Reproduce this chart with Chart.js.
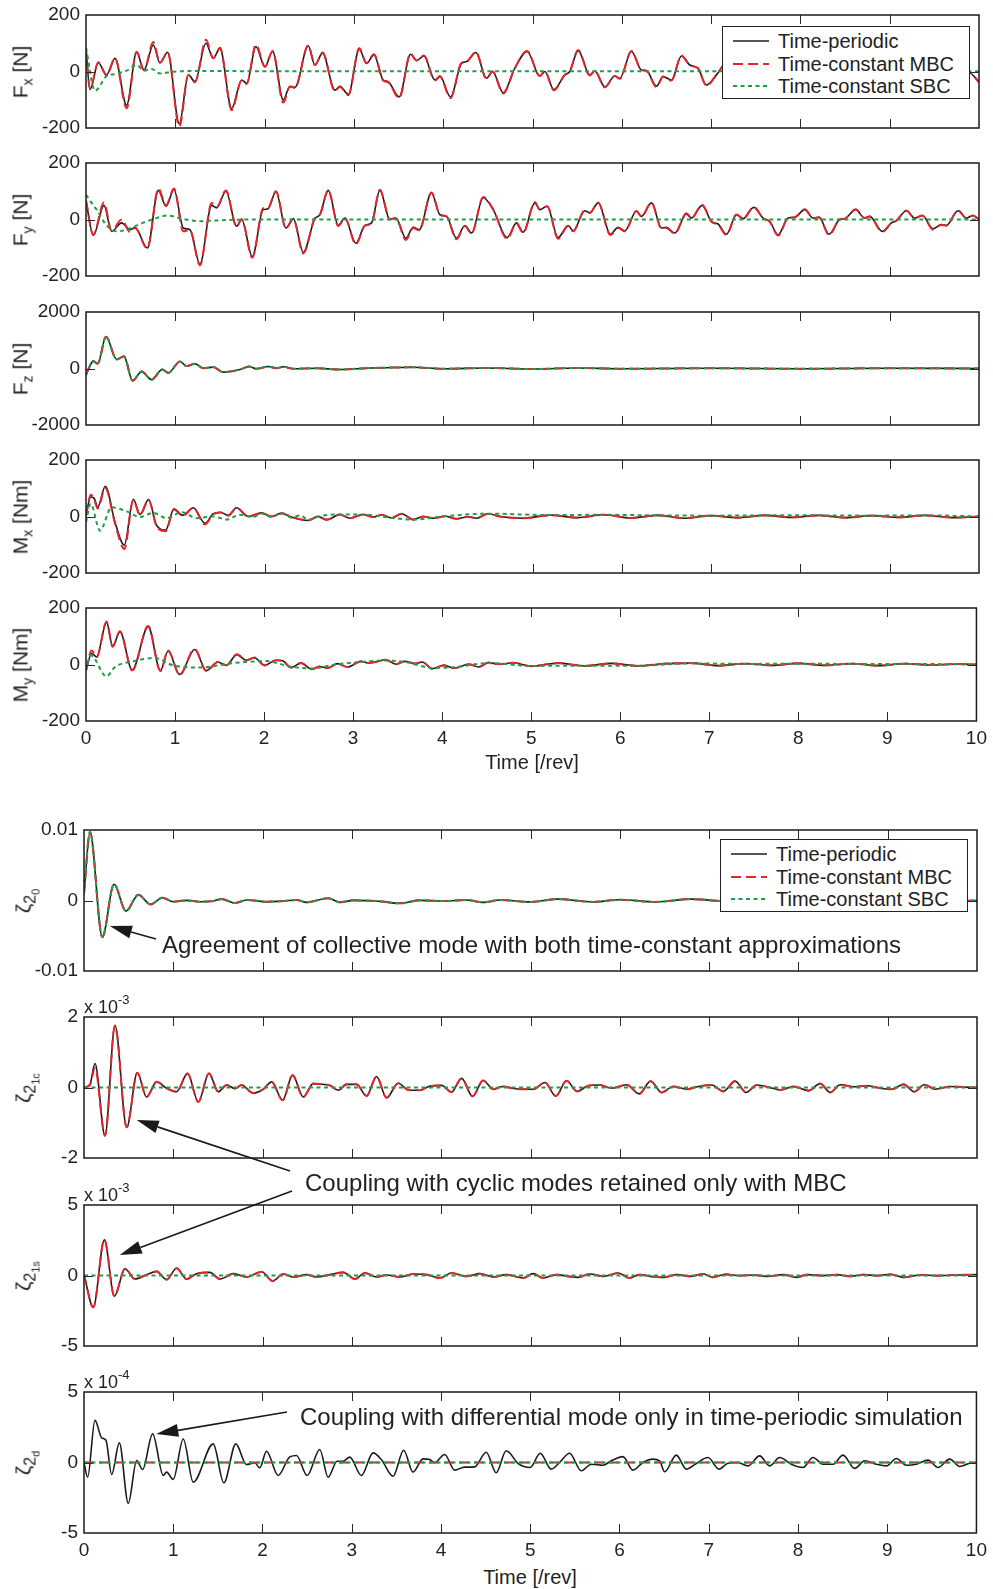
<!DOCTYPE html>
<html>
<head>
<meta charset="utf-8">
<script src="https://cdn.jsdelivr.net/npm/chart.js@4.4.0/dist/chart.umd.min.js"></script>
<style>
body { margin: 0; background: #fff; font-family: "Liberation Sans", Arial, Helvetica, sans-serif; color: #222; }
#page { position: relative; width: 993px; height: 1589px; overflow: hidden; }
#page canvas { position: absolute; left: 0; }
.ylab { position: absolute; font-size: 21px; white-space: nowrap; transform: translate(-50%, -50%) rotate(-90deg); line-height: 1; }
.ylab sub { font-size: 14px; vertical-align: -5px; }
.ylab.z { font-size: 21px; }
.ylab.z sub { font-size: 16px; vertical-align: -5px; }
.ylab.z sub sub { font-size: 11px; vertical-align: -4px; }
.note { position: absolute; font-size: 24px; line-height: 28px; white-space: nowrap; z-index: 4; }
.xlab { position: absolute; font-size: 20px; line-height: 24px; white-space: nowrap; transform: translate(-50%, -50%); }
.scale { position: absolute; font-size: 18px; line-height: 20px; white-space: nowrap; }
.scale sup { font-size: 13px; vertical-align: 9px; }
.legend { position: absolute; box-sizing: border-box; border: 1.3px solid #222; background: #fff; z-index: 3; }
.legend .row { position: absolute; left: 0; height: 24px; width: 100%; }
.legend svg { position: absolute; left: 10px; top: 9px; }
.legend span { position: absolute; left: 55px; top: 0; font-size: 20px; line-height: 24px; white-space: nowrap; }
#arrows { z-index: 5; pointer-events: none; }
</style>
</head>
<body>
<div id="page"></div>
<script>
// ---- data (time in revolutions) ----
const fxTime = [0,0.045,0.138,0.231,0.325,0.455,0.567,0.649,0.754,0.828,
    0.914,1.045,1.146,1.220,1.343,1.425,1.500,1.631,1.743,1.799,
    1.903,2.004,2.090,2.209,2.284,2.340,2.489,2.563,2.649,2.787,
    2.843,2.937,3.060,3.142,3.224,3.328,3.384,3.507,3.634,3.701,
    3.784,3.907,3.963,4.082,4.205,4.261,4.366,4.485,4.552,4.672,
    4.80,4.940,5.082,5.138,5.239,5.362,5.418,5.511,5.642,5.698,
    5.810,5.922,5.978,6.108,6.220,6.276,6.388,6.463,6.556,6.668,
    6.761,6.854,6.948,7.060,7.2,7.35,7.5,7.65,7.8,7.95,
    8.1,8.3,8.45,8.6,8.8,8.95,9.1,9.3,9.45,9.6,
    9.75,9.89,10];
const fxPeriodic = [77,-64,31,-12,47,-119,68,5,94,31,
    68,-185,-12,-36,100,47,82,-131,-30,-42,
    88,17,71,-101,-52,-56,91,23,65,-66,
    -52,-81,79,29,59,-30,-36,-90,61,39,
    55,-30,-16,-90,29,35,67,-24,0,-75,
    10,71,-16,0,-64,-12,0,74,-12,2,
    -54,-16,-24,71,5,3,-52,-18,-30,55,
    23,11,-48,-12,40,-20,60,-40,50,-30,
    50,-40,40,-30,45,-35,40,-30,35,-30,
    30,0,-36];
const fxMbc = [77,-62,33,-14,47,-130,70,5,104,31,
    68,-195,-12,-38,112,47,84,-137,-32,-44,
    95,17,73,-110,-54,-58,93,23,67,-70,
    -54,-84,82,29,61,-32,-38,-94,63,39,
    57,-32,-18,-94,31,35,69,-26,0,-78,
    10,73,-16,0,-66,-12,0,76,-14,2,
    -56,-16,-26,73,5,3,-55,-18,-32,57,
    23,11,-50,-12,40,-20,60,-40,50,-30,
    50,-40,40,-30,45,-35,40,-30,35,-30,
    30,0,-38];
const fxSbcTime = [0,0.101,0.231,0.325,0.455,0.567,0.649,0.735,0.828,0.978,1.276,2,4,6,8,10];
const fxSbc = [84,-68,-16,-9,3,23,3,9,-7,-1,2,1,1,1,1,1];

const fyTime = [0,0.082,0.201,0.287,0.399,0.493,0.549,0.687,0.810,0.896,
    0.985,1.090,1.164,1.276,1.407,1.463,1.567,1.687,1.743,1.862,
    1.985,2.034,2.127,2.239,2.321,2.433,2.563,2.619,2.713,2.825,
    2.899,3.022,3.123,3.198,3.291,3.403,3.470,3.582,3.664,3.731,
    3.869,3.963,4.037,4.149,4.243,4.317,4.448,4.560,4.716,4.821,
    4.896,5.026,5.082,5.164,5.287,5.399,5.455,5.586,5.642,5.735,
    5.873,5.959,6.034,6.164,6.220,6.332,6.444,6.500,6.593,6.724,
    6.780,6.899,7.004,7.078,7.172,7.284,7.358,7.478,7.582,7.657,
    7.750,7.862,7.937,8.049,8.142,8.209,8.321,8.440,8.496,8.619,
    8.720,8.776,8.918,9.019,9.075,9.187,9.280,9.366,9.485,9.578,
    9.634,9.765,9.858,9.933,10];
const fyPeriodic = [65,-56,50,-42,-12,-36,-28,-101,103,47,
    106,-30,-36,-158,50,41,100,-24,0,-131,
    35,37,98,-30,3,-116,3,17,103,-21,
    5,-84,-21,-12,103,0,5,-66,-28,-36,
    94,17,11,-66,-21,-48,77,35,-64,-12,
    -45,59,35,47,-64,-21,-40,31,23,59,
    -52,-28,-40,29,11,59,-30,-28,-48,20,
    5,50,-7,-16,-52,17,3,43,5,-7,
    -54,5,8,35,5,8,-52,0,3,35,
    5,11,-42,-12,-4,31,5,14,-33,-18,
    -21,31,5,14,0];
const fyMbc = [68,-54,60,-40,0,-45,-30,-103,110,50,
    110,-42,-38,-162,58,44,103,-26,2,-135,
    40,38,100,-32,3,-120,5,17,104,-23,
    5,-88,-22,-13,105,0,5,-72,-30,-38,
    96,17,11,-70,-23,-50,80,36,-68,-14,
    -48,62,35,47,-68,-23,-42,33,24,60,
    -55,-30,-42,30,11,60,-32,-30,-50,22,
    5,52,-8,-18,-55,18,3,44,5,-8,
    -57,5,8,36,5,8,-55,0,3,36,
    5,11,-44,-13,-4,32,5,14,-36,-19,
    -22,32,5,14,0];
const fySbcTime = [0,0.082,0.119,0.231,0.343,0.455,0.604,0.787,0.918,1.086,1.276,1.425,1.649,2,4,6,8,10];
const fySbc = [88,50,35,-21,-42,-36,-16,5,14,2,-6,-4,-1,0,0,0,0,0];

const fzTime = [0,0.037,0.082,0.131,0.224,0.343,0.425,0.522,0.623,0.735,
    0.854,0.922,1.052,1.127,1.220,1.313,1.425,1.537,1.724,1.828,
    1.910,2.041,2.134,2.209,2.321,2.582,2.843,3.142,3.440,3.664,
    4.0,4.5,5,5.5,6,7,8,9,10];
const fzPeriodic = [-230,50,260,170,1125,320,430,-430,-110,-395,
    -35,-155,250,85,170,10,50,-130,-35,70,
    -10,70,10,60,-10,10,-35,10,35,45,
    -10,20,-20,20,-10,10,-10,10,0];

const mxTime = [0,0.052,0.090,0.131,0.216,0.325,0.429,0.530,0.604,0.701,
    0.791,0.892,0.985,1.082,1.201,1.332,1.425,1.507,1.593,1.687,
    1.817,1.966,2.078,2.190,2.302,2.489,2.601,2.694,2.843,2.955,
    3.104,3.216,3.310,3.422,3.534,3.664,3.776,3.888,4.019,4.149,
    4.280,4.373,4.504,4.634,4.9,5.2,5.5,5.8,6.1,6.4,
    6.7,7.0,7.3,7.6,7.9,8.2,8.5,8.8,9.1,9.4,
    9.7,10];
const mxPeriodic = [5,69,65,33,107,-20,-101,61,7,60,
    -32,-48,27,4,31,-24,10,15,4,31,
    0,13,0,12,-2,-14,0,-12,7,-6,
    7,-2,6,-5,10,-11,0,-6,1,-8,
    -1,-6,10,0,-6,5,-4,6,-5,4,
    -6,3,-4,4,-3,4,-4,3,-3,4,
    -4,0];
const mxMbc = [0,77,62,28,101,-25,-115,58,5,58,
    -35,-52,25,2,30,-28,8,14,3,30,
    0,12,0,11,-2,-13,0,-11,7,-6,
    7,-2,6,-5,10,-11,0,-6,1,-8,
    -1,-6,10,0,-6,5,-4,6,-5,4,
    -6,3,-4,4,-3,4,-4,3,-3,4,
    -4,0];
const mxSbcTime = [0,0.052,0.157,0.287,0.455,0.604,0.754,0.903,1.071,1.239,
    1.425,1.575,1.724,1.873,1.966,2.078,2.190,2.302,2.40,2.489,
    2.601,2.843,3.104,3.422,3.664,4.019,4.504,5.2,5.8,6.4,
    7.0,7.6,8.2,8.8,9.4,10];
const mxSbc = [-20,45,-50,33,18,-2,13,-6,15,-6,
    0,-11,6,-2,11,-2,12,-4,4,-12,
    0,7,7,-5,-11,1,10,5,6,4,
    3,4,4,3,4,0];

const myTime = [0,0.063,0.119,0.231,0.299,0.381,0.519,0.698,0.836,0.922,
    1.052,1.220,1.351,1.481,1.575,1.694,1.799,1.892,2.004,2.134,
    2.209,2.302,2.414,2.537,2.619,2.713,2.825,2.937,3.086,3.179,
    3.254,3.366,3.478,3.582,3.701,3.776,3.888,4.019,4.131,4.299,
    4.410,4.522,4.634,4.8,5.0,5.3,5.6,5.9,6.2,6.5,
    6.8,7.1,7.4,7.7,8.0,8.3,8.6,8.9,9.2,9.5,
    9.8,10];
const myPeriodic = [-21,39,27,149,65,116,-19,134,-21,48,
    -35,53,-21,9,-3,35,15,24,-3,15,
    13,-11,5,-17,-7,-13,3,-9,11,5,
    9,17,1,11,3,9,-15,-3,-13,1,
    -9,7,1,6,-6,5,-5,4,-5,3,
    5,-4,3,-3,4,-3,3,-4,3,-2,
    2,0];
const myMbc = [-21,50,25,152,63,118,-21,136,-23,50,
    -37,55,-23,9,-3,36,15,25,-3,15,
    13,-11,5,-17,-7,-13,3,-9,11,5,
    9,17,1,11,3,9,-15,-3,-13,1,
    -9,7,1,6,-6,5,-5,4,-5,3,
    5,-4,3,-3,4,-3,3,-4,3,-2,
    2,0];
const mySbcTime = [0,0.052,0.231,0.325,0.530,0.772,0.978,1.276,1.649,2.022,
    2.302,2.537,2.8,3.086,3.366,3.6,3.888,4.131,4.522,5.0,
    5.6,6.2,6.8,7.4,8.0,8.6,9.2,10];
const mySbc = [-21,33,-42,-9,11,23,-3,-11,5,12,
    -8,-14,0,9,14,8,-12,-10,5,-5,
    -4,-4,4,2,3,2,2,0];

const z0Time = [0,0.067,0.205,0.336,0.470,0.608,0.746,0.877,1.0,1.149,
    1.299,1.448,1.541,1.690,1.821,2.045,2.231,2.381,2.493,2.735,
    2.866,3.015,3.276,3.537,3.761,4.060,4.284,4.470,4.657,5.0,
    5.3,5.7,6.0,6.4,6.8,7.2,7.6,8.0,8.4,8.8,
    9.2,9.6,10];
const z0Periodic = [0.0010,0.0097,-0.0052,0.0023,-0.0015,0.0008,-0.00055,0.0004,-0.00017,0.00002,
    -0.00017,-0.00007,0.0002,-0.00036,0.00007,-0.00017,-0.00007,0.00007,-0.00026,0.00031,
    -0.00026,0.00002,-0.00007,-0.0004,0.00002,-0.00007,0.00007,-0.00026,0.00007,-0.0002,
    0.0002,-0.0002,0.0001,-0.0002,0.0002,-0.0001,0.0001,-0.0001,0.0001,-0.0001,
    0.0001,-0.0001,0];

// zeta_2_1c, x 10^-3
const z1cTime = [0,0.067,0.123,0.235,0.347,0.478,0.597,0.701,0.813,0.925,
    1.037,1.160,1.280,1.399,1.504,1.597,1.690,1.765,1.896,2.007,
    2.101,2.224,2.336,2.455,2.567,2.660,2.754,2.847,2.940,3.052,
    3.164,3.276,3.388,3.519,3.631,3.761,3.873,4.004,4.116,4.228,
    4.351,4.470,4.582,4.694,4.806,4.918,5.030,5.161,5.284,5.404,
    5.523,5.646,5.777,5.908,6.076,6.218,6.345,6.469,6.599,6.749,
    6.880,7.029,7.160,7.291,7.414,7.534,7.683,7.795,7.945,8.113,
    8.244,8.356,8.468,8.617,8.767,8.916,9.047,9.178,9.297,9.410,
    9.533,9.701,9.851,10];
const z1cPeriodic = [0,0.09,0.68,-1.37,1.76,-1.13,0.42,-0.27,0.16,-0.02,
    -0.12,0.40,-0.41,0.40,-0.12,0.07,-0.03,0.07,-0.16,-0.05,
    0.16,-0.36,0.35,-0.27,0.11,0.09,0.06,-0.08,0.09,0.09,
    -0.24,0.31,-0.29,0.12,-0.07,-0.08,0.04,0.06,-0.13,0.26,
    -0.25,0.20,-0.05,0.03,-0.03,-0.05,-0.05,0.14,-0.24,0.19,
    -0.11,0.05,0.07,-0.02,0.08,-0.18,0.18,-0.14,0.03,-0.05,
    0.03,0.07,-0.11,0.18,-0.14,0.07,0,-0.07,0.03,-0.09,
    0.11,-0.14,0.08,0.02,0.05,-0.02,-0.05,0.09,-0.12,0.08,
    -0.05,0.03,0.01,0];
const z1cMbc = [0,0.07,0.55,-1.37,1.76,-1.13,0.42,-0.27,0.16,-0.02,
    -0.12,0.40,-0.41,0.40,-0.12,0.07,-0.03,0.07,-0.16,-0.05,
    0.16,-0.36,0.35,-0.27,0.11,0.09,0.06,-0.08,0.09,0.09,
    -0.24,0.31,-0.29,0.12,-0.07,-0.08,0.04,0.06,-0.13,0.26,
    -0.25,0.20,-0.05,0.03,-0.03,-0.05,-0.05,0.14,-0.24,0.19,
    -0.11,0.05,0.07,-0.02,0.08,-0.18,0.18,-0.14,0.03,-0.05,
    0.03,0.07,-0.11,0.18,-0.14,0.07,0,-0.07,0.03,-0.09,
    0.11,-0.14,0.08,0.02,0.05,-0.02,-0.05,0.09,-0.12,0.08,
    -0.05,0.03,0.01,0];

// zeta_2_1s, x 10^-3
const z1sTime = [0,0.104,0.228,0.340,0.459,0.571,0.701,0.813,0.925,1.037,
    1.149,1.261,1.410,1.522,1.672,1.821,1.989,2.112,2.231,2.343,
    2.493,2.604,2.754,2.903,3.034,3.146,3.276,3.388,3.537,3.687,
    3.836,3.985,4.116,4.284,4.433,4.582,4.731,4.918,5.030,5.142,
    5.291,5.422,5.534,5.665,5.815,5.983,6.106,6.226,6.338,6.487,
    6.637,6.786,6.936,7.040,7.179,7.347,7.496,7.646,7.833,7.982,
    8.094,8.281,8.431,8.580,8.729,8.879,9.028,9.178,9.365,9.552,
    9.776,10];
const z1sPeriodic = [0.06,-2.25,2.53,-1.47,0.48,-0.25,0.06,0.29,-0.29,0.51,
    -0.25,0.13,0.22,-0.25,0.13,-0.11,0.27,-0.39,0.11,-0.11,
    0.06,-0.11,0.06,0.22,-0.25,0.18,-0.11,0.04,-0.11,0.11,
    0.06,-0.18,0.18,-0.06,0.13,-0.11,0.06,-0.18,0.13,-0.18,
    0.06,-0.06,-0.13,0.11,-0.06,0.18,-0.18,0.06,-0.06,-0.13,
    0.06,-0.06,0.11,-0.13,0.08,-0.01,0.04,-0.06,0.06,-0.13,
    0.06,-0.01,0.06,-0.06,0.06,-0.01,0.08,-0.13,0.04,-0.01,
    0.04,0.06];

// zeta_2_d, x 10^-4
const z2dTime = [0,0.041,0.123,0.198,0.246,0.310,0.396,0.496,0.590,0.657,
    0.769,0.888,0.925,1.0,1.112,1.224,1.448,1.567,1.701,1.821,
    1.914,1.970,2.045,2.175,2.306,2.381,2.500,2.642,2.735,2.836,
    2.903,2.978,3.108,3.239,3.332,3.463,3.582,3.687,3.799,3.873,
    3.929,4.041,4.153,4.265,4.377,4.507,4.619,4.731,4.873,5.0,
    5.112,5.235,5.329,5.441,5.572,5.684,5.815,5.908,6.039,6.151,
    6.263,6.375,6.450,6.506,6.637,6.749,6.861,6.992,7.115,7.216,
    7.328,7.440,7.571,7.683,7.795,7.926,8.057,8.169,8.281,8.393,
    8.505,8.636,8.748,8.879,8.991,9.103,9.215,9.327,9.458,9.570,
    9.701,9.813,9.925,10];
const z2dPeriodic = [-0.02,-1.04,2.99,1.75,1.58,-0.85,1.39,-2.90,0.14,-0.50,
    2.03,-0.92,-0.68,-1.20,1.67,-1.39,1.32,-1.44,1.32,-0.14,
    -0.02,-0.38,0.80,-0.92,0.40,0.50,-0.92,0.92,-1.04,0.09,
    0.09,0.38,-0.92,0.68,0.21,-0.97,0.87,-0.68,0.26,0.21,
    -0.02,0.57,-0.54,-0.33,-0.31,0.73,-0.73,0.83,-0.12,-0.35,
    0.66,-0.47,0,0.66,-0.59,-0.12,-0.19,0.12,0.42,-0.54,
    0,0.24,0.12,-0.66,0.52,-0.47,-0.07,0.35,-0.47,-0.05,
    0,-0.24,0.47,-0.24,0.35,-0.12,-0.35,0.35,-0.12,-0.12,
    0.52,-0.42,0.12,-0.12,-0.24,0.28,-0.19,-0.12,0.17,-0.35,
    0.24,-0.28,-0.05,0];
const flatTime = [0, 10];
const flatZero = [0, 0];

const seriesNames = ['Time-periodic', 'Time-constant MBC', 'Time-constant SBC'];
const timeTicks = [0, 1, 2, 3, 4, 5, 6, 7, 8, 9, 10];

// ---- look ----
const FONT = '"Liberation Sans", Arial, Helvetica, sans-serif';
const lineStyles = [
    { borderColor: '#1c1c1c', borderWidth: 1.6, borderDash: [], order: 3 },
    { borderColor: '#e4232b', borderWidth: 2, borderDash: [10, 5], order: 2 },
    { borderColor: '#1f9d4b', borderWidth: 2, borderDash: [4, 3.5], order: 1 }
];

const page = document.getElementById('page');

function pts(t, v) {
    if (t.length !== v.length) console.warn('length mismatch', t.length, v.length);
    return t.map((x, i) => ({ x: x, y: v[i] }));
}

function fmtTick(v) {
    if (Math.abs(v) < 1e-12) return '0';
    return String(+v.toPrecision(4));
}

// frame and inward tick marks, like the original figure
const frameTicks = {
    id: 'frameTicks',
    afterDatasetsDraw(chart) {
        const { ctx, chartArea: a, scales } = chart;
        const x = scales.x, y = scales.y;
        ctx.save();
        ctx.strokeStyle = '#2a2a2a';
        ctx.lineWidth = 1;
        ctx.beginPath();
        x.ticks.forEach(t => {
            if (t.value <= x.min || t.value >= x.max) return;
            const px = Math.round(x.getPixelForValue(t.value)) + 0.5;
            ctx.moveTo(px, a.top); ctx.lineTo(px, a.top + 9);
            ctx.moveTo(px, a.bottom); ctx.lineTo(px, a.bottom - 9);
        });
        y.ticks.forEach(t => {
            if (t.value <= y.min || t.value >= y.max) return;
            const py = Math.round(y.getPixelForValue(t.value)) + 0.5;
            ctx.moveTo(a.left, py); ctx.lineTo(a.left + 9, py);
            ctx.moveTo(a.right, py); ctx.lineTo(a.right - 9, py);
        });
        ctx.stroke();
        ctx.lineWidth = 1.5;
        ctx.strokeStyle = '#1a1a1a';
        ctx.strokeRect(a.left, a.top, a.right - a.left, a.bottom - a.top);
        ctx.restore();
    }
};

function makePlot(p) {
    const padTop = 20;
    const padBottom = p.xLabels ? 2 : 20;
    const xh = p.xLabels ? 30 : 0;
    const canvas = document.createElement('canvas');
    canvas.width = 993;
    canvas.height = padTop + p.h + xh + padBottom;
    canvas.style.top = (p.top - padTop) + 'px';
    page.appendChild(canvas);

    const datasets = p.series.map((s, i) => Object.assign({
        label: seriesNames[i],
        data: pts(s[0], s[1]),
        pointRadius: 0,
        fill: false,
        cubicInterpolationMode: 'monotone'
    }, lineStyles[i]));

    const chart = new Chart(canvas, {
        type: 'line',
        data: { datasets: datasets },
        options: {
            responsive: false,
            animation: false,
            events: [],
            layout: { padding: { top: padTop, right: 993 - p.right, bottom: padBottom, left: 0 } },
            plugins: { legend: { display: false }, tooltip: { enabled: false } },
            scales: {
                x: {
                    type: 'linear', min: 0, max: 10,
                    afterBuildTicks: s => { s.ticks = timeTicks.map(v => ({ value: v })); },
                    ticks: { display: !!p.xLabels, padding: 6, color: '#222', font: { family: FONT, size: 19 } },
                    grid: { display: false, drawTicks: false },
                    border: { display: false },
                    afterFit: s => { s.height = xh; }
                },
                y: {
                    min: -p.lim, max: p.lim,
                    afterBuildTicks: s => { s.ticks = [-p.lim, 0, p.lim].map(v => ({ value: v })); },
                    ticks: { padding: 6, color: '#222', font: { family: FONT, size: 19 }, callback: fmtTick },
                    grid: { display: false, drawTicks: false },
                    border: { display: false },
                    afterFit: s => { s.width = p.left; }
                }
            }
        },
        plugins: [frameTicks]
    });
    chart.$top = p.top - padTop;

    const yl = document.createElement('div');
    yl.className = 'ylab' + (p.zeta ? ' z' : '');
    yl.innerHTML = p.label;
    yl.style.left = p.labelX + 'px';
    yl.style.top = (p.top + p.h / 2) + 'px';
    page.appendChild(yl);

    if (p.scaleText) {
        const sc = document.createElement('div');
        sc.className = 'scale';
        sc.innerHTML = p.scaleText;
        sc.style.left = p.left + 'px';
        sc.style.top = (p.top - 27) + 'px';
        page.appendChild(sc);
    }
    if (p.legend) addLegend(chart, p.legend[0], p.legend[1]);
    return chart;
}

function addLegend(chart, left, top) {
    const box = document.createElement('div');
    box.className = 'legend';
    box.style.left = left + 'px';
    box.style.top = top + 'px';
    box.style.width = '248px';
    box.style.height = '73px';
    chart.data.datasets.forEach((ds, i) => {
        const row = document.createElement('div');
        row.className = 'row';
        row.style.top = (2 + i * 22.5) + 'px';
        const dash = ds.borderDash.length ? ds.borderDash.join(' ') : 'none';
        row.innerHTML = '<svg width="36" height="6"><line x1="0" y1="3" x2="36" y2="3" stroke="' + ds.borderColor +
            '" stroke-width="' + ds.borderWidth + '" stroke-dasharray="' + dash + '"/></svg><span>' + ds.label + '</span>';
        box.appendChild(row);
    });
    page.appendChild(box);
}

function addText(cls, html, left, top) {
    const d = document.createElement('div');
    d.className = cls;
    d.innerHTML = html;
    d.style.left = left + 'px';
    d.style.top = top + 'px';
    page.appendChild(d);
    return d;
}

const top5 = { left: 86, right: 979, h: 113, lim: 200, labelX: 22 };
const bot4 = { left: 84, right: 977, h: 141, labelX: 27, zeta: true };

const charts = [
    makePlot(Object.assign({}, top5, { top: 15, label: 'F<sub>x</sub> [N]',
        series: [[fxTime, fxPeriodic], [fxTime, fxMbc], [fxSbcTime, fxSbc]], legend: [722, 26] })),
    makePlot(Object.assign({}, top5, { top: 163, label: 'F<sub>y</sub> [N]',
        series: [[fyTime, fyPeriodic], [fyTime, fyMbc], [fySbcTime, fySbc]] })),
    makePlot(Object.assign({}, top5, { top: 312, lim: 2000, label: 'F<sub>z</sub> [N]',
        series: [[fzTime, fzPeriodic], [fzTime, fzPeriodic], [fzTime, fzPeriodic]] })),
    makePlot(Object.assign({}, top5, { top: 460, label: 'M<sub>x</sub> [Nm]',
        series: [[mxTime, mxPeriodic], [mxTime, mxMbc], [mxSbcTime, mxSbc]] })),
    makePlot(Object.assign({}, top5, { top: 608, label: 'M<sub>y</sub> [Nm]', xLabels: true,
        series: [[myTime, myPeriodic], [myTime, myMbc], [mySbcTime, mySbc]] })),
    makePlot(Object.assign({}, bot4, { top: 830, lim: 0.01, label: '&zeta;<sub>2<sub>0</sub></sub>',
        series: [[z0Time, z0Periodic], [z0Time, z0Periodic], [z0Time, z0Periodic]], legend: [720, 839] })),
    makePlot(Object.assign({}, bot4, { top: 1017, lim: 2, label: '&zeta;<sub>2<sub>1c</sub></sub>', scaleText: 'x 10<sup>-3</sup>',
        series: [[z1cTime, z1cPeriodic], [z1cTime, z1cMbc], [flatTime, flatZero]] })),
    makePlot(Object.assign({}, bot4, { top: 1205, lim: 5, label: '&zeta;<sub>2<sub>1s</sub></sub>', scaleText: 'x 10<sup>-3</sup>',
        series: [[z1sTime, z1sPeriodic], [z1sTime, z1sPeriodic], [flatTime, flatZero]] })),
    makePlot(Object.assign({}, bot4, { top: 1392, lim: 5, label: '&zeta;<sub>2<sub>d</sub></sub>', scaleText: 'x 10<sup>-4</sup>', xLabels: true,
        series: [[z2dTime, z2dPeriodic], [flatTime, flatZero], [flatTime, flatZero]] }))
];

// axis titles and notes
addText('xlab', 'Time [/rev]', 532, 762);
addText('xlab', 'Time [/rev]', 530, 1577);
addText('note', 'Agreement of collective mode with both time-constant approximations', 162, 931);
addText('note', 'Coupling with cyclic modes retained only with MBC', 305, 1169);
addText('note', 'Coupling with differential mode only in time-periodic simulation', 300, 1403);

// arrows: tail in page pixels, tip in the target plot's data coordinates
const arrows = [
    { chart: 5, from: [156, 939], to: [0.29, -0.0036] },
    { chart: 6, from: [290, 1171], to: [0.59, -0.92] },
    { chart: 7, from: [292, 1191], to: [0.40, 1.45] },
    { chart: 8, from: [287, 1412], to: [0.81, 2.02] }
];

const ov = document.createElement('canvas');
ov.id = 'arrows';
ov.width = 993; ov.height = 1589;
ov.style.top = '0px';
page.appendChild(ov);
const actx = ov.getContext('2d');
actx.strokeStyle = '#1a1a1a';
actx.fillStyle = '#1a1a1a';
actx.lineWidth = 1.6;
arrows.forEach(a => {
    const c = charts[a.chart];
    const x1 = c.scales.x.getPixelForValue(a.to[0]);
    const y1 = c.$top + c.scales.y.getPixelForValue(a.to[1]);
    const x0 = a.from[0], y0 = a.from[1];
    const ang = Math.atan2(y1 - y0, x1 - x0);
    const len = 22, half = 6.5;
    const bx = x1 - len * Math.cos(ang), by = y1 - len * Math.sin(ang);
    actx.beginPath();
    actx.moveTo(x0, y0);
    actx.lineTo(bx, by);
    actx.stroke();
    actx.beginPath();
    actx.moveTo(x1, y1);
    actx.lineTo(bx - half * Math.sin(ang), by + half * Math.cos(ang));
    actx.lineTo(bx + half * Math.sin(ang), by - half * Math.cos(ang));
    actx.closePath();
    actx.fill();
});
</script>
</body>
</html>
